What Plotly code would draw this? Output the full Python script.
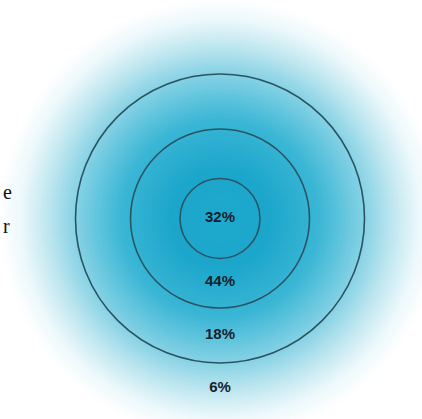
import plotly.graph_objects as go
import numpy as np

# Data
shares = ["32%", "44%", "18%", "6%"]          # inner -> outer
ring_radii = [40, 89.5, 144.5]                  # ring boundaries (px units)
label_offsets = [0, 63.5, 116.5, 169.5]         # label distance below centre
side_text = ["e", "r"]

W, H = 422, 419
cx, cy = 220, 218.5

fig = go.Figure()

# radial gradient background (style)
stops_r = [0, 50, 100, 145, 175, 200, 222]
stops_c = [(30, 169, 205), (28, 166, 203), (58, 182, 213), (132, 209, 228),
           (192, 231, 240), (236, 248, 251), (255, 255, 255)]
shapes = []
rs = np.linspace(222, 1, 90)
for r in rs:
    c = [int(round(np.interp(r, stops_r, [s[i] for s in stops_c]))) for i in range(3)]
    shapes.append(dict(type="circle", xref="x", yref="y", x0=cx - r, x1=cx + r,
                       y0=cy - r, y1=cy + r, fillcolor=f"rgb({c[0]},{c[1]},{c[2]})",
                       line=dict(width=0), layer="below"))
for r in ring_radii:
    shapes.append(dict(type="circle", xref="x", yref="y", x0=cx - r, x1=cx + r,
                       y0=cy - r, y1=cy + r, fillcolor="rgba(0,0,0,0)",
                       line=dict(color="#2b5463", width=1.6), layer="below"))

fig.add_trace(go.Scatter(
    x=[cx] * len(shares), y=[cy + o for o in label_offsets],
    mode="text", text=shares,
    textfont=dict(family="Liberation Sans", size=15, color="#16222c", weight="bold"),
    hoverinfo="skip", showlegend=False))

annotations = []
for i, t in enumerate(side_text):
    annotations.append(dict(x=1, y=192 + 34 * i, xref="x", yref="y", text=t,
                            showarrow=False, xanchor="left", yanchor="middle",
                            font=dict(family="Liberation Serif", size=20, color="#111")))

fig.update_layout(
    width=W, height=H, margin=dict(l=0, r=0, t=0, b=0),
    paper_bgcolor="white", plot_bgcolor="white",
    xaxis=dict(range=[0, W], visible=False, fixedrange=True),
    yaxis=dict(range=[H, 0], visible=False, fixedrange=True),
    shapes=shapes, annotations=annotations, showlegend=False,
)
fig.write_html("out.html")
